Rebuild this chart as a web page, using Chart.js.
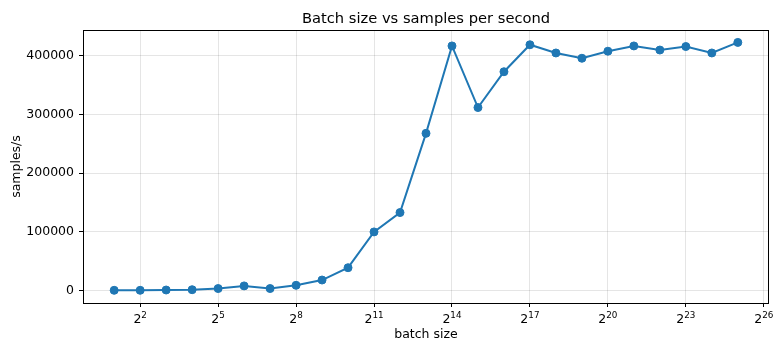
<!DOCTYPE html>
<html>
<head>
<meta charset="utf-8">
<script src="https://cdn.jsdelivr.net/npm/chart.js@4.4.0/dist/chart.umd.min.js"></script>
<style>
  body { margin: 0; background: #fff; }
  canvas { display: block; }
</style>
</head>
<body>
<canvas id="chart" width="774" height="341"></canvas>
<script>
// Batch size exponents (batch size = 2^n) and measured throughput
const batchExponents = [1, 2, 3, 4, 5, 6, 7, 8, 9, 10, 11, 12, 13, 14, 15, 16, 17, 18, 19, 20, 21, 22, 23, 24, 25];
const samplesPerSecond = [
    500, 500, 1000, 1500, 3500, 8000, 3500, 9000, 18000, 39000,
    100000, 133000, 268000, 417000, 312000, 373000, 419000, 405000, 396000, 408000,
    417000, 410000, 416000, 405000, 423000
];
const xTickExponents = [2, 5, 8, 11, 14, 17, 20, 23, 26];
const yTickValues = [0, 100000, 200000, 300000, 400000];
const chartTitle = 'Batch size vs samples per second';

const fontFamily = "'DejaVu Sans', sans-serif";
const blue = '#1f77b4';

// Full black frame round the plot area, and the title centred over it
const framePlugin = {
    id: 'frame',
    afterDraw(chart) {
        const { ctx, chartArea } = chart;
        ctx.save();
        ctx.strokeStyle = '#000';
        ctx.lineWidth = 1;
        ctx.strokeRect(Math.round(chartArea.left) + 0.5, Math.round(chartArea.top) + 0.5,
            Math.round(chartArea.right - chartArea.left) - 1, Math.round(chartArea.bottom - chartArea.top));

        ctx.fillStyle = '#000';
        ctx.font = '14.7px ' + fontFamily;
        ctx.textAlign = 'center';
        ctx.textBaseline = 'alphabetic';
        ctx.fillText(chartTitle, (chartArea.left + chartArea.right) / 2, chartArea.top - 7.5);
        ctx.restore();
    }
};

// x tick labels as 2 with a raised exponent, placed by the x scale
const powerLabelPlugin = {
    id: 'powerLabels',
    afterDraw(chart) {
        const { ctx } = chart;
        const scale = chart.scales.x;
        const baseY = scale.top + 20;
        ctx.save();
        ctx.fillStyle = '#000';
        ctx.textBaseline = 'alphabetic';
        ctx.textAlign = 'left';
        scale.ticks.forEach(tick => {
            const exp = String(Math.round(Math.log2(tick.value)));
            const x = scale.getPixelForValue(tick.value);
            ctx.font = '12.5px ' + fontFamily;
            const baseW = ctx.measureText('2').width;
            ctx.font = '8.8px ' + fontFamily;
            const supW = ctx.measureText(exp).width;
            const start = x - (baseW + supW) / 2;
            ctx.font = '12.5px ' + fontFamily;
            ctx.fillText('2', start, baseY);
            ctx.font = '8.8px ' + fontFamily;
            ctx.fillText(exp, start + baseW, baseY - 5.5);
        });
        ctx.restore();
    }
};

const ctx = document.getElementById('chart').getContext('2d');
new Chart(ctx, {
    type: 'line',
    data: {
        datasets: [{
            label: 'samples/s',
            data: batchExponents.map((e, i) => ({ x: Math.pow(2, e), y: samplesPerSecond[i] })),
            borderColor: blue,
            backgroundColor: blue,
            borderWidth: 2,
            pointRadius: 4,
            pointBackgroundColor: blue,
            pointBorderColor: blue,
            pointBorderWidth: 1,
            tension: 0
        }]
    },
    options: {
        responsive: false,
        devicePixelRatio: 1,
        animation: false,
        layout: { padding: { left: 0, right: 5, top: 30, bottom: 0 } },
        plugins: {
            legend: { display: false },
            tooltip: { enabled: false },
            title: { display: false }
        },
        scales: {
            x: {
                type: 'logarithmic',
                min: Math.pow(2, -0.2),
                max: Math.pow(2, 26.2),
                afterBuildTicks(scale) {
                    scale.ticks = xTickExponents.map(e => ({ value: Math.pow(2, e) }));
                },
                afterFit(scale) {
                    scale.height = 38;
                    scale.paddingLeft = 0;
                    scale.paddingRight = 0;
                },
                ticks: {
                    display: false,
                    autoSkip: false
                },
                grid: { color: 'rgba(0,0,0,0.1)', tickColor: '#000', tickLength: 4 },
                border: { display: false },
                title: {
                    display: true,
                    text: 'batch size',
                    color: '#000',
                    font: { family: fontFamily, size: 12.5, lineHeight: 1 },
                    padding: { top: 0, bottom: 0 }
                }
            },
            y: {
                min: -21150,
                max: 444150,
                afterBuildTicks(scale) {
                    scale.ticks = yTickValues.map(v => ({ value: v }));
                },
                afterFit(scale) {
                    scale.width = 83;
                    scale.paddingTop = 0;
                    scale.paddingBottom = 0;
                },
                ticks: {
                    color: '#000',
                    font: { family: fontFamily, size: 12.5 },
                    padding: 5,
                    callback: value => String(value)
                },
                grid: { color: 'rgba(0,0,0,0.1)', tickColor: '#000', tickLength: 4 },
                border: { display: false },
                title: {
                    display: true,
                    text: 'samples/s',
                    color: '#000',
                    font: { family: fontFamily, size: 12.5, lineHeight: 1.2 },
                    padding: { top: 9, bottom: 0 }
                }
            }
        }
    },
    plugins: [framePlugin, powerLabelPlugin]
});
</script>
</body>
</html>
